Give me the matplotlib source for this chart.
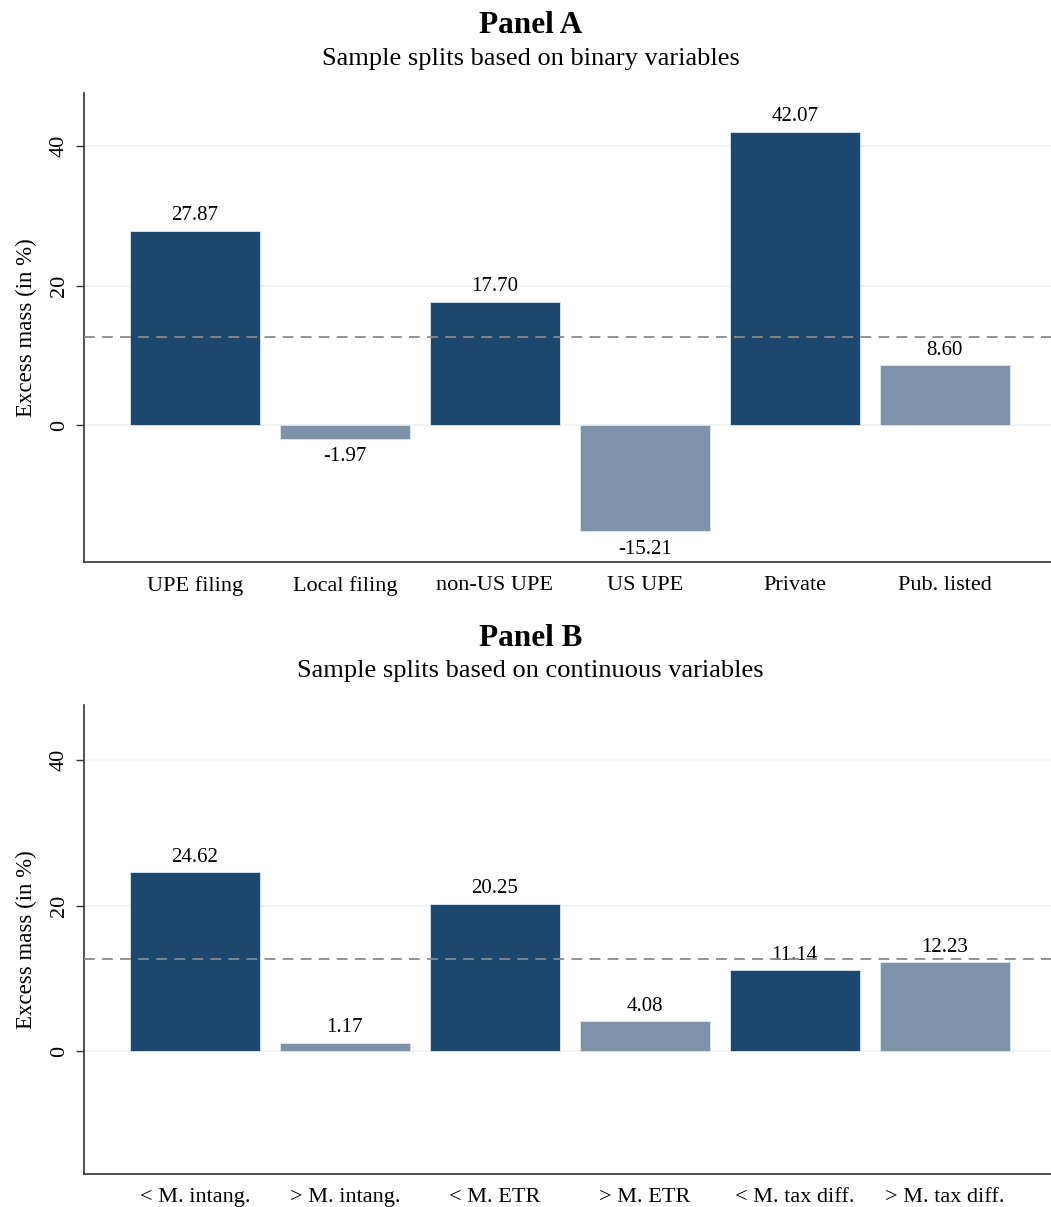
import matplotlib.pyplot as plt
import numpy as np

plt.rcParams['font.family'] = ['Liberation Serif', 'DejaVu Serif']

# Panel A: binary sample splits
labels_a = ['UPE filing', 'Local filing', 'non-US UPE', 'US UPE', 'Private', 'Pub. listed']
values_a = [27.87, -1.97, 17.70, -15.21, 42.07, 8.60]

# Panel B: splits at the median of continuous variables
labels_b = ['< M. intang.', '> M. intang.', '< M. ETR', '> M. ETR', '< M. tax diff.', '> M. tax diff.']
values_b = [24.62, 1.17, 20.25, 4.08, 11.14, 12.23]

full_sample = 12.65
dark = '#1c4870'
light = '#7e93aa'
colors = [dark, light] * 3


def panel(ax, labels, values, ylim):
    x = np.arange(len(values))
    ax.bar(x, values, width=0.867, color=colors, edgecolor='#dfe6ee', linewidth=0.6, zorder=2)
    for xi, v in zip(x, values):
        if v >= 0:
            ax.annotate(f'{v:.2f}', (xi, v), xytext=(0, 4), textcoords='offset points',
                        ha='center', va='bottom', fontsize=15)
        else:
            ax.annotate(f'{v:.2f}', (xi, v), xytext=(0, -6), textcoords='offset points',
                        ha='center', va='top', fontsize=15)
    ax.axhline(full_sample, color='#8a8a8a', linestyle=(0, (6, 4)), linewidth=1.3, zorder=3)
    ax.set_xlim(-0.74, 5.71)
    ax.set_ylim(*ylim)
    ax.set_yticks([0, 20, 40])
    ax.set_yticklabels(['0', '20', '40'], rotation=90, va='center', fontsize=16)
    ax.yaxis.grid(True, color='#eef2f6', linewidth=1.2, zorder=0)
    ax.set_axisbelow(True)
    ax.set_xticks(x)
    ax.set_xticklabels(labels, fontsize=16)
    ax.tick_params(axis='x', length=0, pad=10)
    ax.tick_params(axis='y', length=6, width=1, color='#333333', pad=5)
    ax.set_ylabel('Excess mass (in %)', fontsize=16.5, labelpad=9)
    for side in ['top', 'right']:
        ax.spines[side].set_visible(False)
    for side in ['left', 'bottom']:
        ax.spines[side].set_color('#333333')
        ax.spines[side].set_linewidth(1.2)


fig = plt.figure(figsize=(10.51, 12.07), dpi=100)
ax_a = fig.add_axes([0.0799, 0.5344, 0.9201, 0.3886])
ax_b = fig.add_axes([0.0799, 0.0273, 0.9201, 0.3886])

panel(ax_a, labels_a, values_a, (-19.6, 47.6))
panel(ax_b, labels_b, values_b, (-16.9, 47.6))

fig.text(0.505, 0.979, 'Panel A', ha='center', va='center', fontsize=22.5, fontweight='bold')
fig.text(0.505, 0.951, 'Sample splits based on binary variables', ha='center', va='center', fontsize=19)
fig.text(0.505, 0.471, 'Panel B', ha='center', va='center', fontsize=22.5, fontweight='bold')
fig.text(0.505, 0.444, 'Sample splits based on continuous variables', ha='center', va='center', fontsize=19)

fig.savefig('out.png', dpi=100)
